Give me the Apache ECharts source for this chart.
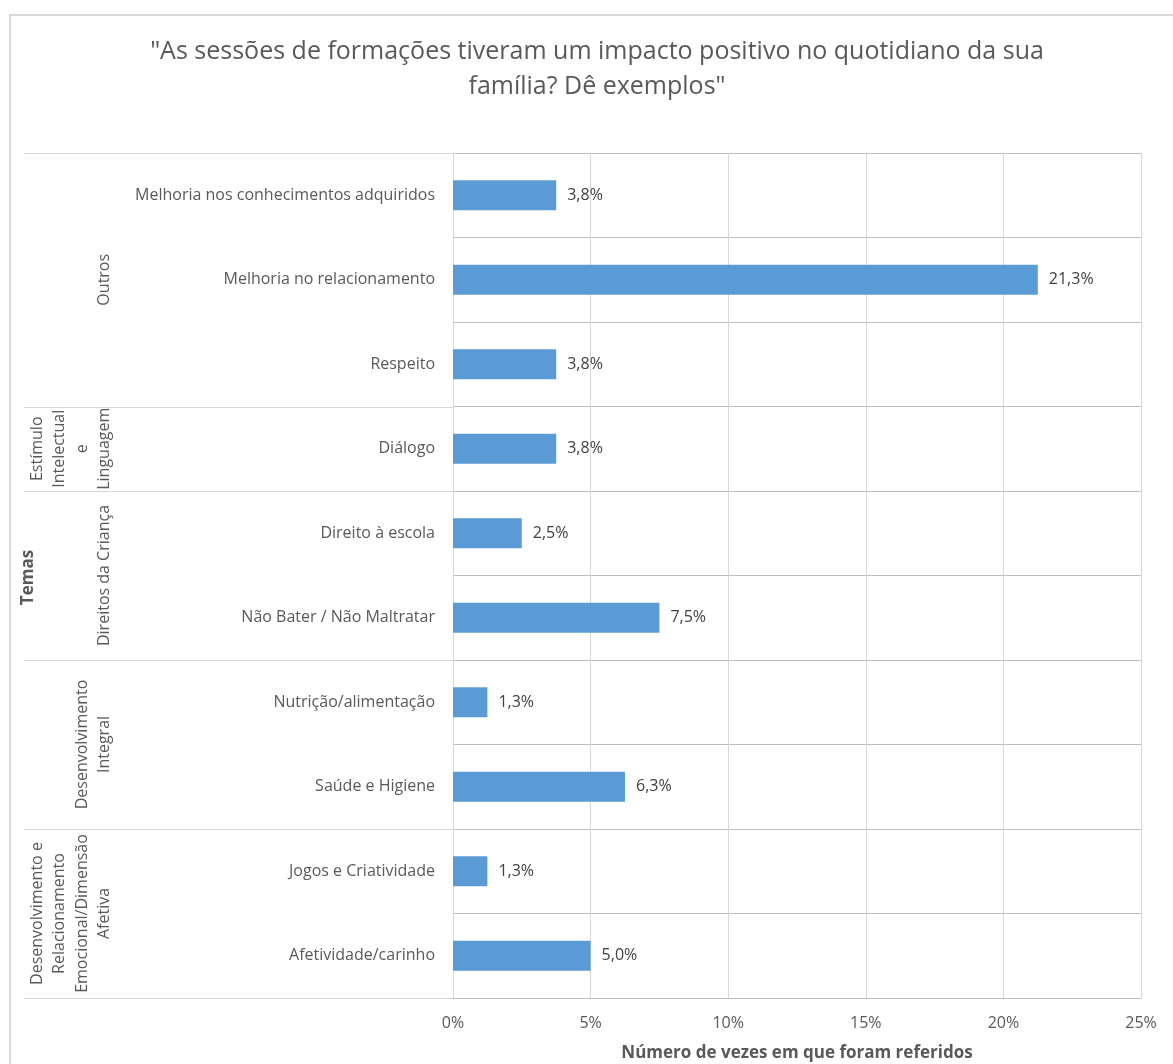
<!DOCTYPE html>
<html><head><meta charset="utf-8">
<script src="https://cdn.jsdelivr.net/npm/echarts@6/dist/echarts.min.js"></script>
<style>html,body{margin:0;padding:0;background:#fff}#c{width:1173px;height:1064px}</style>
</head><body><div id="c"></div>
<script>
const titleText = '"As sessões de formações tiveram um impacto positivo no quotidiano da sua\nfamília? Dê exemplos"';
const categories = [
  'Melhoria nos conhecimentos adquiridos',
  'Melhoria no relacionamento',
  'Respeito',
  'Diálogo',
  'Direito à escola',
  'Não Bater / Não Maltratar',
  'Nutrição/alimentação',
  'Saúde e Higiene',
  'Jogos e Criatividade',
  'Afetividade/carinho'
];
// shares (%); labels round to one decimal
const values = [3.75, 21.25, 3.75, 3.75, 2.5, 7.5, 1.25, 6.25, 1.25, 5.0];
const groupNames = [
  'Outros',
  'Estímulo\nIntelectual\ne\nLinguagem',
  'Direitos da Criança',
  'Desenvolvimento\nIntegral',
  'Desenvolvimento e\nRelacionamento\nEmocional/Dimensão\nAfetiva'
];
const groupSizes = [3, 1, 2, 2, 2];
const xMin = 0, xMax = 25, xStep = 5;
const xAxisName = 'Número de vezes em que foram referidos';
const yAxisName = 'Temas';

const FONT = '"Open Sans", sans-serif';
const chart = echarts.init(document.getElementById('c'));
const fmt = v => v.toFixed(1).replace('.', ',') + '%';

const option = {
  animation: false,
  backgroundColor: '#fff',
  grid: { left: 453, right: 32, top: 153, bottom: 66, containLabel: false, outerBoundsMode: 'none' },
  xAxis: {
    type: 'value', min: xMin, max: xMax, interval: xStep,
    axisLabel: { formatter: v => v + '%', color: '#595959', fontFamily: FONT, fontSize: 16, margin: 17 },
    axisLine: { show: true, lineStyle: { color: '#bfbfbf' } },
    axisTick: { show: false },
    splitLine: { show: true, lineStyle: { color: '#d9d9d9', width: 1 } },
    name: xAxisName, nameLocation: 'middle', nameGap: 47,
    nameTextStyle: { fontFamily: FONT, fontSize: 17, fontWeight: 'bold', color: '#595959' }
  },
  yAxis: {
    type: 'category', data: categories, inverse: true,
    axisLabel: { color: '#595959', fontFamily: FONT, fontSize: 16, margin: 18 },
    axisLine: { show: false },
    axisTick: { show: false },
    splitLine: { show: true, lineStyle: { color: '#bfbfbf', width: 1 } }
  },
  series: [{
    type: 'bar', data: values, barWidth: 30,
    itemStyle: { color: '#5b9bd5' },
    label: { show: true, position: 'right', distance: 11, formatter: p => fmt(p.value),
      color: '#404040', fontFamily: FONT, fontSize: 16 }
  }]
};
chart.setOption(option);

// group labels and separators placed via the axis scale
const p0 = chart.convertToPixel({ yAxisIndex: 0 }, categories[0]);
const p1 = chart.convertToPixel({ yAxisIndex: 0 }, categories[1]);
const band = p1 - p0;
const boundary = k => p0 - band / 2 + k * band;
const gridLeft = chart.convertToPixel({ xAxisIndex: 0 }, xMin);
const graphics = [{
  type: 'rect', silent: true, z: -1,
  shape: { x: 10, y: 15, width: 1200, height: 1100 },
  style: { fill: 'none', stroke: '#d9d9d9', lineWidth: 2 }
}, {
  type: 'text', silent: true,
  x: 597, y: 34,
  style: { text: titleText, fontFamily: FONT, fontSize: 25, lineHeight: 35, fill: '#595959',
    align: 'center', verticalAlign: 'top' }
}];
let start = 0;
const bounds = [0];
groupSizes.forEach((n, gi) => {
  const end = start + n;
  bounds.push(end);
  const yc = (boundary(start) + boundary(end)) / 2;
  graphics.push({
    type: 'text', silent: true,
    x: 116, y: yc, rotation: Math.PI / 2,
    style: { text: groupNames[gi], fontFamily: FONT, fontSize: 16, lineHeight: 22.5,
      fill: '#595959', align: 'center', verticalAlign: 'bottom' }
  });
  start = end;
});
bounds.forEach(k => {
  const y = Math.round(boundary(k)) + 0.5;
  graphics.push({
    type: 'line', silent: true,
    shape: { x1: 24, y1: y, x2: gridLeft, y2: y },
    style: { stroke: '#d9d9d9', lineWidth: 1 }
  });
});
graphics.push({
  type: 'text', silent: true,
  x: 28, y: (boundary(0) + boundary(categories.length)) / 2 + 2, rotation: Math.PI / 2,
  style: { text: yAxisName, fontFamily: FONT, fontSize: 17, fontWeight: 'bold', fill: '#595959',
    align: 'center', verticalAlign: 'middle' }
});
chart.setOption({ graphic: graphics });
</script>
</body></html>
